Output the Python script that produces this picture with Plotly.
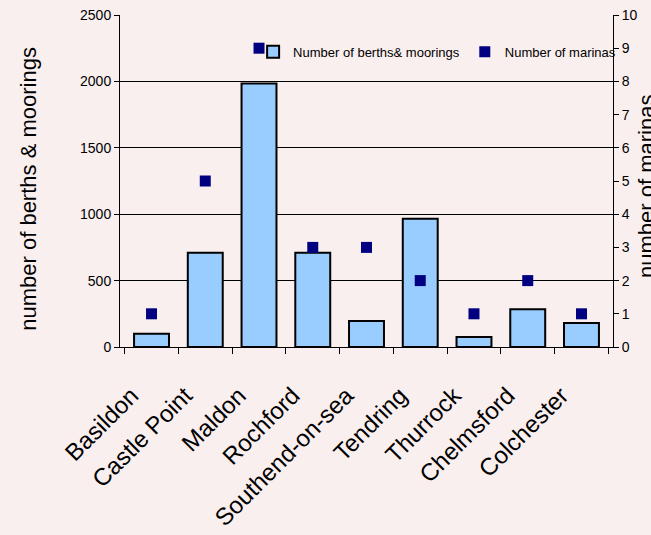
import plotly.graph_objects as go

categories = ["Basildon", "Castle Point", "Maldon", "Rochford", "Southend-on-sea",
              "Tendring", "Thurrock", "Chelmsford", "Colchester"]
berths = [100, 710, 1985, 710, 195, 965, 75, 285, 180]
marinas = [1, 5, 9, 3, 3, 2, 1, 2, 1]
left_title = "number of berths & moorings"
right_title = "number of marinas"

BG = "#F9EFEF"
FONT = "Liberation Sans, Arial, sans-serif"

fig = go.Figure()
fig.add_trace(go.Bar(
    x=categories, y=berths, name="Number of berths& moorings",
    marker=dict(color="#99CCFF", line=dict(color="black", width=2)),
    yaxis="y",
))
fig.add_trace(go.Scatter(
    x=categories, y=marinas, name="Number of marinas", mode="markers",
    marker=dict(symbol="square", size=11, color="#000080"),
    yaxis="y2",
))

fig.update_layout(
    width=651, height=535,
    paper_bgcolor=BG, plot_bgcolor=BG,
    margin=dict(l=120, r=38, t=15, b=188, autoexpand=False),
    font=dict(family=FONT, color="black"),
    bargap=0.35,
    showlegend=True,
    legend=dict(orientation="h", x=0.27, y=0.889, xanchor="left", yanchor="middle",
                bgcolor="rgba(0,0,0,0)", font=dict(size=13, family=FONT),
                itemwidth=30, tracegroupgap=0),
    xaxis=dict(
        type="category", tickangle=-45, tickfont=dict(size=24, family=FONT),
        ticks="outside", ticklen=6, tickcolor="black", tickson="boundaries",
        ticklabelstandoff=24, ticklabelshift=-20,
        showline=True, linecolor="black", linewidth=1, showgrid=False,
        automargin=False,
    ),
    yaxis=dict(
        range=[0, 2500], dtick=500, tickfont=dict(size=14, family=FONT),
        ticks="outside", ticklen=5, tickcolor="black",
        showline=True, linecolor="black", linewidth=1,
        showgrid=True, gridcolor="black", gridwidth=1, zeroline=False,
        automargin=False,
    ),
    yaxis2=dict(
        range=[0, 10], dtick=1, overlaying="y", side="right",
        tickfont=dict(size=14, family=FONT),
        ticks="outside", ticklen=5, tickcolor="black",
        showline=True, linecolor="black", linewidth=1,
        showgrid=False, zeroline=False,
        automargin=False,
    ),
    annotations=[
        dict(text=left_title, textangle=-90, xref="paper", yref="paper",
             x=-0.185, y=0.476, xanchor="center", yanchor="middle", showarrow=False,
             font=dict(size=22, family=FONT, color="black")),
        dict(text=right_title, textangle=-90, xref="paper", yref="paper",
             x=1.069, y=0.482, xanchor="center", yanchor="middle", showarrow=False,
             font=dict(size=22, family=FONT, color="black")),
    ],
)

fig.write_html("out.html")
